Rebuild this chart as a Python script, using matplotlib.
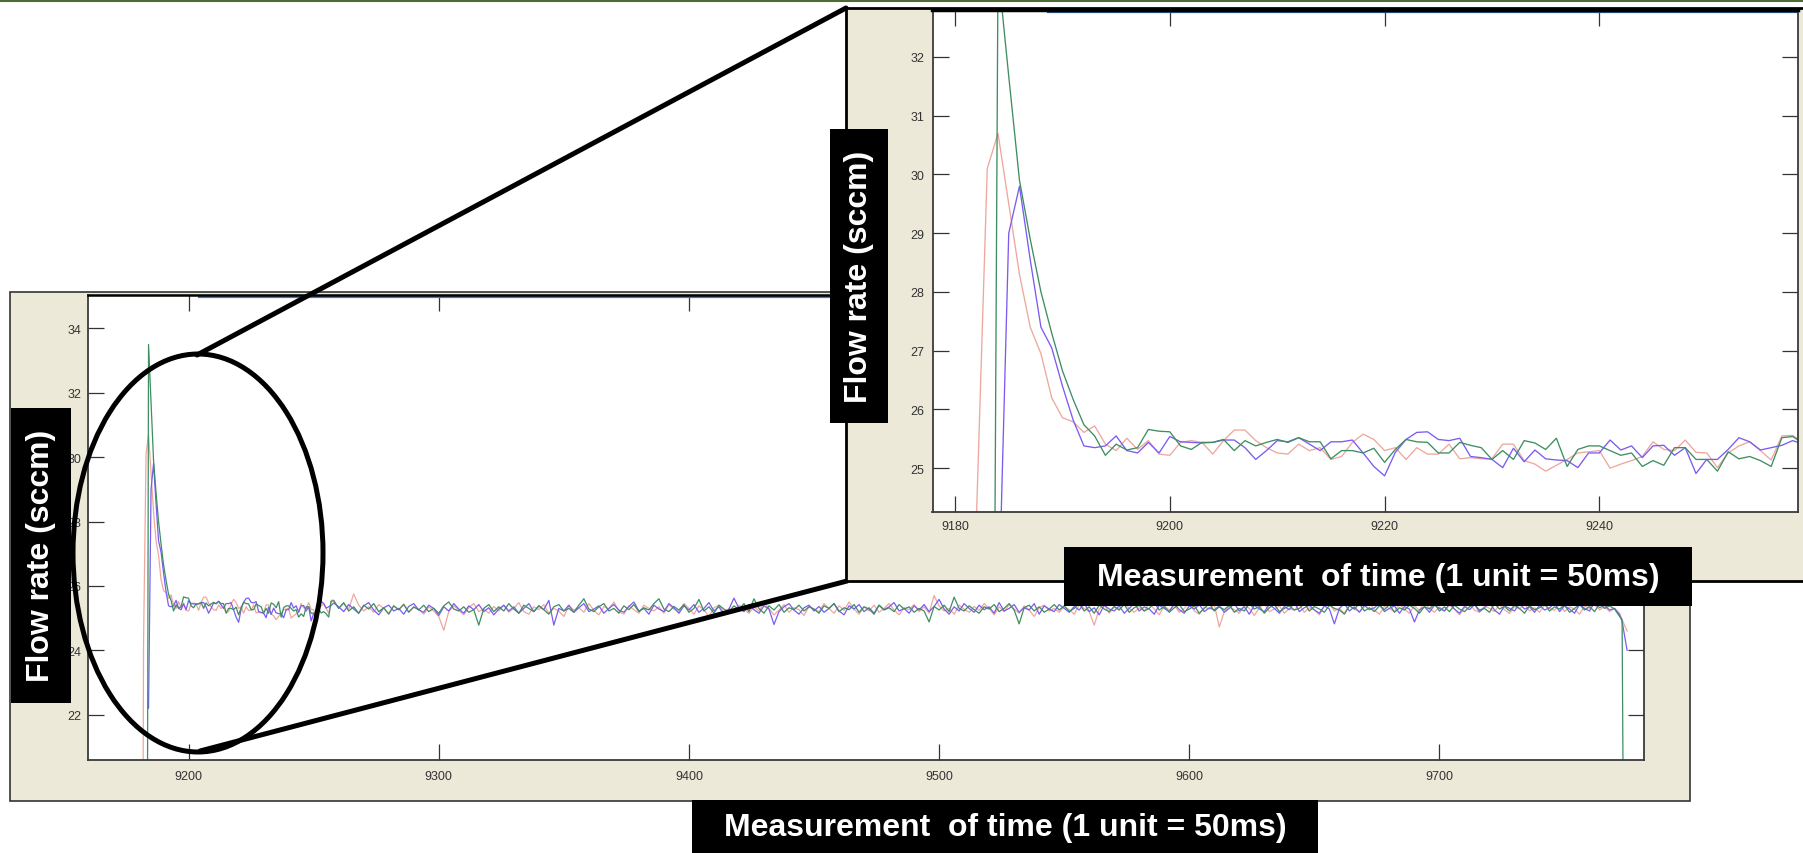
import numpy as np
import matplotlib
matplotlib.use("Agg")
import matplotlib.pyplot as plt
from matplotlib.patches import Rectangle, Ellipse
from matplotlib.lines import Line2D

W, H = 1803, 854
plt.rcParams['font.family'] = ['Liberation Sans', 'DejaVu Sans']

# ---------------- data ----------------
PINK_START = 9181
pink_detail = [0.0, 24.2, 30.1, 30.7, 29.5, 28.3, 27.4, 26.95, 26.2, 25.86,
               25.79, 25.61, 25.72, 25.41, 25.30, 25.51, 25.32, 25.47, 25.24, 25.22,
               25.44, 25.47, 25.44, 25.24, 25.47, 25.65, 25.65, 25.47, 25.35, 25.26,
               25.24, 25.41, 25.30, 25.35, 25.15, 25.20, 25.44, 25.58, 25.49, 25.30,
               25.35, 25.15, 25.35, 25.24, 25.24, 25.41, 25.16, 25.18, 25.16, 25.16,
               25.41, 25.41, 25.13, 25.07, 24.95, 25.05, 25.15, 25.26, 25.28, 25.30,
               25.00, 25.07, 25.13, 25.20, 25.45, 25.32, 25.30, 25.48, 25.27, 25.26,
               25.01, 25.26, 25.38, 25.45, 25.30, 25.14, 25.55, 25.56]
BLUE_START = 9184
blue_detail = [22.2, 29.0, 29.8, 28.55, 27.4, 27.05, 26.4, 25.82, 25.38, 25.35,
               25.38, 25.55, 25.30, 25.26, 25.44, 25.26, 25.54, 25.45, 25.44, 25.43,
               25.44, 25.48, 25.48, 25.35, 25.15, 25.30, 25.47, 25.45, 25.52, 25.41,
               25.30, 25.45, 25.45, 25.48, 25.26, 25.03, 24.87, 25.27, 25.49, 25.61,
               25.62, 25.49, 25.47, 25.51, 25.20, 25.18, 25.15, 25.01, 25.34, 25.11,
               25.31, 25.16, 25.14, 25.13, 25.01, 25.26, 25.26, 25.48, 25.31, 25.38,
               25.18, 25.38, 25.39, 25.22, 25.35, 24.91, 25.15, 25.15, 25.32, 25.52,
               25.45, 25.31, 25.35, 25.39, 25.47]
GREEN_START = 9183
green_detail = [0.0, 33.5, 31.67, 29.9, 28.9, 28.0, 27.3, 26.66, 26.17, 25.74,
                25.55, 25.22, 25.41, 25.31, 25.35, 25.66, 25.63, 25.62, 25.38, 25.32,
                25.44, 25.44, 25.49, 25.30, 25.47, 25.38, 25.44, 25.49, 25.44, 25.52,
                25.45, 25.45, 25.16, 25.30, 25.30, 25.26, 25.34, 25.10, 25.32, 25.49,
                25.45, 25.44, 25.26, 25.26, 25.44, 25.39, 25.35, 25.15, 25.30, 25.15,
                25.47, 25.43, 25.32, 25.51, 25.03, 25.32, 25.38, 25.38, 25.30, 25.22,
                25.26, 25.03, 25.13, 25.05, 25.35, 25.35, 25.15, 25.15, 24.95, 25.28,
                25.16, 25.20, 25.13, 25.03, 25.52, 25.54]

TAIL_START, TAIL_STEP = 9260, 2
pink_tail = [
    25.30, 25.45, 25.28, 25.75, 25.40, 25.22, 25.35, 25.18, 25.42, 25.30, 25.15, 25.38, 25.25, 25.44, 25.20, 25.33,
    25.28, 25.12, 25.35, 25.22, 25.05, 24.62, 25.20, 25.38, 25.25, 25.10, 25.32, 25.45, 25.20, 25.28, 25.15, 25.36,
    25.22, 25.40, 25.18, 25.30, 25.48, 25.20, 25.12, 25.35, 25.26, 25.42, 25.15, 25.30, 25.22, 25.05, 25.38, 25.25,
    25.32, 25.18, 25.45, 25.24, 25.10, 25.36, 25.28, 25.50, 25.20, 25.12, 25.38, 25.26, 25.15, 25.40, 25.30, 25.22,
    25.35, 25.15, 25.42, 25.28, 25.20, 25.45, 25.30, 25.12, 25.38, 25.25, 25.05, 25.32, 25.40, 25.18, 25.30, 25.22,
    25.40, 25.28, 25.15, 25.35, 25.22, 25.48, 25.30, 25.10, 25.25, 25.42, 25.18, 25.32, 25.26, 25.08, 25.36, 25.28,
    25.20, 25.45, 25.30, 25.15, 25.38, 25.24, 25.50, 25.28, 25.12, 25.35, 25.22, 25.40, 25.18, 25.30, 25.45, 25.25,
    25.10, 25.32, 25.26, 25.42, 25.20, 25.35, 25.15, 25.70, 25.38, 25.22, 25.30, 25.12, 25.40, 25.28, 25.18, 25.36,
    25.24, 25.45, 25.30, 25.10, 25.35, 25.20, 25.42, 25.28, 25.15, 25.38, 25.25, 25.05, 25.32, 25.40, 25.22, 25.30,
    25.18, 25.36, 25.26, 25.12, 25.40, 25.30, 25.20, 24.78, 25.28, 25.42, 25.15, 25.35, 25.24, 25.48, 25.30, 25.18,
    25.32, 25.22, 25.45, 25.28, 25.10, 25.38, 25.25, 25.40, 25.18, 25.30, 25.50, 25.22, 25.12, 25.35, 25.28, 25.42,
    24.72, 25.20, 25.36, 25.26, 25.15, 25.40, 25.30, 25.08, 25.32, 25.45, 25.20, 25.28, 25.38, 25.15, 25.30, 25.24,
    25.42, 25.18, 25.32, 25.26, 25.10, 25.38, 25.48, 25.22, 25.30, 25.15, 25.40, 25.28, 25.20, 25.35, 25.45, 25.25,
    25.12, 25.36, 25.30, 25.20, 25.42, 25.28, 25.15, 25.38, 25.24, 25.50, 25.30, 25.18, 25.35, 25.22, 25.40, 25.28,
    25.10, 25.32, 25.45, 25.25, 25.18, 25.38, 25.30, 25.20, 25.42, 25.26, 25.14, 25.36, 25.28, 25.46, 25.22, 25.32,
    25.18, 25.40, 25.30, 25.24, 25.45, 25.20, 25.35, 25.28, 25.12, 25.38, 25.30, 25.42, 25.25, 25.36, 25.20, 25.30,
    25.15]
blue_tail = [
    25.35, 25.20, 25.42, 25.28, 25.15, 25.38, 25.48, 25.25, 25.10, 25.32, 25.40, 25.22, 25.30, 25.12, 25.36, 25.45,
    25.25, 25.18, 25.40, 25.30, 25.08, 25.35, 25.22, 25.45, 25.28, 25.15, 25.38, 25.26, 25.42, 25.20, 25.32, 25.10,
    25.28, 25.40, 25.22, 25.35, 25.15, 25.30, 25.45, 25.20, 25.38, 25.26, 25.55, 24.78, 25.30, 25.22, 25.40, 25.18,
    25.32, 25.45, 25.20, 25.28, 25.38, 25.15, 25.30, 25.42, 25.25, 25.18, 25.36, 25.50, 25.22, 25.30, 25.12, 25.40,
    25.28, 25.20, 25.45, 25.32, 25.15, 25.38, 25.25, 25.42, 25.18, 25.30, 25.48, 25.22, 25.35, 25.10, 25.28, 25.62,
    25.30, 25.20, 25.42, 25.26, 25.15, 25.38, 25.28, 24.80, 25.20, 25.35, 25.45, 25.25, 25.12, 25.32, 25.40, 25.22,
    25.36, 25.18, 25.30, 25.45, 25.22, 25.10, 25.38, 25.28, 25.42, 25.20, 25.32, 25.15, 25.40, 25.26, 25.35, 25.48,
    25.22, 25.30, 25.15, 25.38, 25.25, 25.42, 25.20, 25.36, 25.58, 25.28, 25.12, 25.35, 25.22, 25.45, 25.30, 25.18,
    25.40, 25.26, 25.35, 25.15, 25.48, 25.22, 25.30, 25.42, 25.18, 25.32, 25.25, 25.45, 25.12, 25.38, 25.28, 25.20,
    25.42, 25.30, 25.18, 25.36, 25.25, 25.45, 25.20, 25.32, 25.10, 25.40, 25.28, 25.22, 25.38, 25.15, 25.30, 25.46,
    25.22, 25.35, 25.28, 25.12, 25.40, 25.30, 25.20, 25.45, 25.26, 25.15, 25.38, 25.28, 25.42, 25.20, 25.32, 25.25,
    25.38, 25.18, 25.30, 25.45, 25.22, 25.35, 25.12, 25.40, 25.28, 25.20, 25.42, 25.30, 25.15, 25.36, 25.26, 25.48,
    25.20, 25.32, 25.40, 25.25, 25.15, 25.38, 25.28, 24.82, 25.30, 25.45, 25.22, 25.35, 25.18, 25.40, 25.26, 25.32,
    25.45, 25.20, 25.30, 25.38, 25.15, 25.36, 25.28, 24.88, 25.25, 25.35, 25.18, 25.40, 25.30, 25.22, 25.45, 25.28,
    25.15, 25.36, 25.26, 25.42, 25.20, 25.32, 25.48, 25.25, 25.12, 25.38, 25.30, 25.22, 25.45, 25.28, 25.35, 25.18,
    25.40, 25.25, 25.32, 25.46, 25.20, 25.38, 25.28, 25.15, 25.42, 25.30, 25.22, 25.50, 25.32, 25.40, 25.25, 25.30,
    25.10]
green_tail = [
    25.30, 25.48, 25.22, 25.35, 25.15, 25.40, 25.28, 25.45, 25.20, 25.32, 25.12, 25.38, 25.26, 25.42, 25.18, 25.35,
    25.25, 25.40, 25.20, 25.30, 25.15, 25.38, 25.50, 25.28, 25.22, 25.35, 25.18, 25.26, 24.78, 25.30, 25.42, 25.20,
    25.35, 25.22, 25.45, 25.28, 25.15, 25.40, 25.30, 25.20, 25.38, 25.26, 25.12, 25.35, 25.42, 25.22, 25.30, 25.18,
    25.40, 25.60, 25.28, 25.20, 25.35, 25.45, 25.22, 25.30, 25.15, 25.38, 25.26, 25.42, 25.20, 25.32, 25.25, 25.45,
    25.60, 25.28, 25.20, 25.36, 25.25, 25.42, 25.18, 25.30, 25.58, 25.22, 25.35, 25.15, 25.40, 25.28, 25.20, 25.38,
    25.26, 25.45, 25.20, 25.60, 25.30, 25.15, 25.38, 25.25, 25.42, 25.18, 25.32, 25.26, 25.40, 25.22, 25.35, 25.28,
    25.15, 25.38, 25.30, 25.45, 25.20, 25.32, 25.26, 25.42, 25.18, 25.35, 25.28, 25.12, 25.40, 25.25, 25.32, 25.20,
    25.42, 25.28, 25.35, 25.18, 25.30, 25.22, 24.88, 25.36, 25.25, 25.40, 25.20, 25.65, 25.30, 25.22, 25.38, 25.26,
    25.15, 25.35, 25.28, 25.42, 25.20, 25.30, 25.45, 25.25, 24.82, 25.32, 25.40, 25.22, 25.35, 25.18, 25.28, 25.42,
    25.25, 25.38, 25.20, 25.30, 25.45, 25.22, 25.35, 25.15, 25.40, 25.28, 25.20, 25.36, 25.26, 25.42, 25.18, 25.32,
    25.40, 25.22, 25.30, 25.48, 25.25, 25.36, 25.18, 25.32, 25.42, 25.20, 25.28, 25.38, 25.15, 25.30, 25.45, 25.22,
    25.35, 25.26, 25.40, 25.18, 25.30, 25.22, 25.45, 25.28, 25.36, 25.15, 25.32, 25.42, 25.20, 25.30, 25.38, 25.25,
    25.30, 25.45, 25.22, 25.36, 25.28, 25.18, 25.40, 25.30, 25.25, 25.12, 25.38, 25.28, 25.45, 25.22, 25.32, 25.20,
    25.38, 25.26, 25.42, 25.18, 25.32, 25.25, 25.40, 25.30, 25.15, 25.36, 25.28, 25.45, 25.22, 25.35, 25.20, 25.40,
    25.28, 25.20, 25.35, 25.42, 25.25, 25.30, 25.18, 25.45, 25.28, 25.36, 25.22, 25.40, 25.30, 25.15, 25.38, 25.26,
    25.32, 25.45, 25.22, 25.35, 25.28, 25.40, 25.18, 25.30, 25.42, 25.25, 25.36, 25.20, 25.45, 25.30, 25.38, 25.28,
    25.05]
end_times = [9773, 9775]
pink_end = [24.95, 24.6]
blue_end = [24.9, 24.0]
green_end = [24.95, 0.0]

main_xticks = [9200, 9300, 9400, 9500, 9600, 9700]
main_yticks = [22, 24, 26, 28, 30, 32, 34]
inset_xticks = [9180, 9200, 9220, 9240]
inset_yticks = [25, 26, 27, 28, 29, 30, 31, 32]
y_label = "Flow rate (sccm)"
x_label = "Measurement  of time (1 unit = 50ms)"

# ---------------- assemble series ----------------
tail_t = TAIL_START + TAIL_STEP * np.arange(len(pink_tail))
def series(start, detail, tail, end):
    t = np.concatenate([start + np.arange(len(detail)), tail_t, end_times])
    v = np.concatenate([detail, tail, end])
    return t, v

S = [series(PINK_START, pink_detail, pink_tail, pink_end),
     series(BLUE_START, blue_detail, blue_tail, blue_end),
     series(GREEN_START, green_detail, green_tail, green_end)]
colors = ['#EDA89E', '#7A5CF2', '#3E8E62']

BEIGE = '#ECE9D8'
TICKC = '#333333'

fig = plt.figure(figsize=(W / 100, H / 100), dpi=100)
fig.patch.set_facecolor('white')

def frac(x0, y0, x1, y1):
    return [x0 / W, 1 - y1 / H, (x1 - x0) / W, (y1 - y0) / H]

def overlay(z):
    ov = fig.add_axes([0, 0, 1, 1])
    ov.set_xlim(0, W)
    ov.set_ylim(H, 0)
    ov.axis('off')
    ov.set_zorder(z)
    return ov

def style_axes(ax, xt, yt, padx, pady):
    ax.set_xticks(xt)
    ax.set_yticks(yt)
    ax.tick_params(direction='in', length=11.5, width=0.9, color=TICKC,
                   top=True, right=True, labelsize=9, labelcolor=TICKC)
    ax.tick_params(axis='x', pad=padx)
    ax.tick_params(axis='y', pad=pady)
    for s in ax.spines.values():
        s.set_color('#3a3a3a')
        s.set_linewidth(1.3)
    ax.spines['top'].set_color('black')
    ax.spines['top'].set_linewidth(1.8)

# ---------- layer 0: main beige panel ----------
ov0 = overlay(0)
ov0.add_patch(Rectangle((10, 293), 1680, 509, facecolor=BEIGE,
                        edgecolor='#333333', lw=1.2))

# ---------- layer 1: main axes ----------
ax = fig.add_axes(frac(88, 295.6, 1643.6, 761))
ax.set_zorder(1)
for (t, v), c in zip(S, colors):
    ax.plot(t, v, color=c, lw=0.9)
ax.set_xlim(9159.8, 9781.6)
ax.set_ylim(20.59, 35.05)
ax.plot([9204, 9781.6], [34.99, 34.99], color='#4a78b0', lw=1.6)
style_axes(ax, main_xticks, main_yticks, 7, 5)

# ---------- layer 2: annotation shapes & inset panel ----------
ov1 = overlay(2)
ov1.add_patch(Rectangle((11, 409), 60, 295, facecolor='black', edgecolor='none'))
ov1.text(41, 556, y_label, rotation=90, ha='center', va='center',
         color='white', fontsize=23, fontweight='bold')
ov1.add_patch(Ellipse((198, 554), 250, 398, facecolor='none',
                      edgecolor='black', lw=3.6))
ov1.add_line(Line2D([197, 846], [356, 9], color='black', lw=3.6,
                    solid_capstyle='round'))
ov1.add_line(Line2D([200, 847], [752, 582], color='black', lw=3.6,
                    solid_capstyle='round'))
ov1.add_patch(Rectangle((846, 9), 990, 573, facecolor=BEIGE,
                        edgecolor='black', lw=2.0, zorder=5))

# ---------- layer 3: inset axes ----------
ax2 = fig.add_axes(frac(932.5, 11, 1798, 512.7))
ax2.set_zorder(3)
for (t, v), c in zip(S, colors):
    ax2.plot(t, v, color=c, lw=0.95)
ax2.set_xlim(9177.9, 9258.5)
ax2.set_ylim(24.26, 32.80)
ax2.plot([9188.7, 9258.5], [32.77, 32.77], color='#2f5f9a', lw=1.6)
style_axes(ax2, inset_xticks, inset_yticks, 6, 6)
ax2.spines['top'].set_linewidth(2.5)

# ---------- layer 4: label boxes ----------
ov2 = overlay(4)
ov2.add_patch(Rectangle((830, 130), 58, 294, facecolor='black', edgecolor='none'))
ov2.text(859, 277, y_label, rotation=90, ha='center', va='center',
         color='white', fontsize=23, fontweight='bold')
ov2.add_patch(Rectangle((1064, 548), 628, 59, facecolor='black', edgecolor='none'))
ov2.text(1378, 578, x_label, ha='center', va='center',
         color='white', fontsize=23, fontweight='bold')
ov2.add_patch(Rectangle((692, 801), 626, 60, facecolor='black', edgecolor='none'))
ov2.text(1005, 828, x_label, ha='center', va='center',
         color='white', fontsize=23, fontweight='bold')
ov2.add_line(Line2D([0, W], [1.2, 1.2], color='#4f6b35', lw=2.2))

fig.savefig('out.png', dpi=100)
